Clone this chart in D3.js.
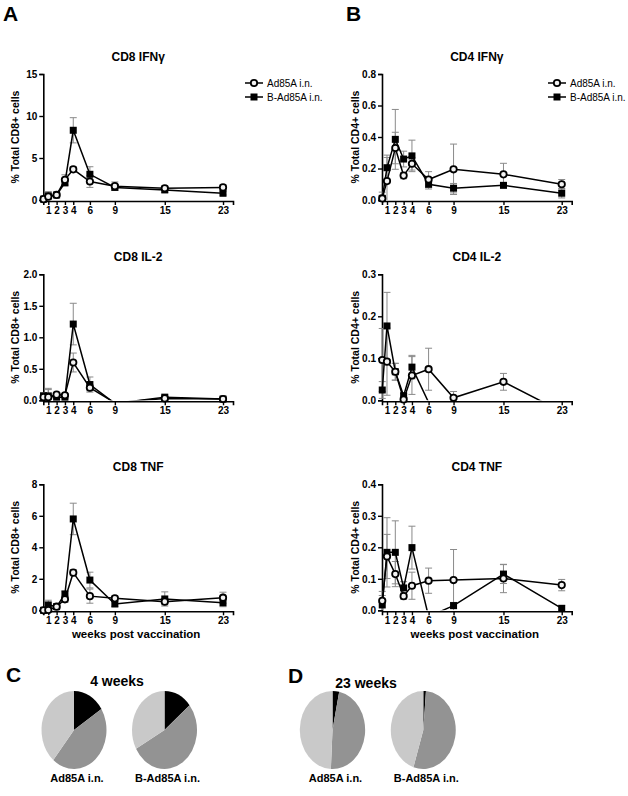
<!DOCTYPE html>
<html>
<head>
<meta charset="utf-8">
<script src="https://cdn.jsdelivr.net/npm/d3@7/dist/d3.min.js"></script>
<style>
  html, body { margin: 0; padding: 0; background: #fff; }
  svg { display: block; font-family: "Liberation Sans", Arial, sans-serif; }
</style>
</head>
<body>
<svg id="chart" width="628" height="796"></svg>
<script>
// ---------------- DATA ----------------
// time points (weeks); first point = day 3
const weeks = [0.43, 1, 2, 3, 4, 6, 9, 15, 22];
const tickWeeks = [1, 2, 3, 4, 6, 9, 15, 22];
const tickLabels = ["1", "2", "3", "4", "6", "9", "15", "23"];
const seriesNames = ["Ad85A i.n.", "B-Ad85A i.n."];

// CD8 IFNγ
const cd8IfnAd = [0.1, 0.4, 0.6, 2.4, 3.65, 2.2, 1.65, 1.4, 1.5];
const cd8IfnAdErr = [0.1, 0.3, 0.1, 0.6, 0.3, 0.7, 0.5, 0.3, 0.3];
const cd8IfnB = [0.1, 0.5, 0.6, 2.06, 8.3, 3.06, 1.5, 1.2, 0.8];
const cd8IfnBErr = [0.1, 0.5, 0.1, 0.4, 1.5, 0.9, 0.3, 0.3, 0.2];
const cd8IfnTicks = [0, 5, 10, 15];

// CD4 IFNγ
const cd4IfnAd = [0.01, 0.12, 0.33, 0.155, 0.23, 0.13, 0.195, 0.163, 0.10];
const cd4IfnAdErr = [0.02, 0.15, 0.1, 0.02, 0.04, 0.05, 0.16, 0.07, 0.03];
const cd4IfnB = [0.01, 0.205, 0.385, 0.26, 0.28, 0.10, 0.075, 0.093, 0.043];
const cd4IfnBErr = [0.04, 0.08, 0.19, 0.05, 0.1, 0.03, 0.03, 0.01, 0.03];
const cd4IfnTicks = [0, 0.2, 0.4, 0.6, 0.8];

// CD8 IL-2
const cd8Il2Ad = [0.05, 0.05, 0.09, 0.08, 0.6, 0.2, -0.04, 0.03, 0.02];
const cd8Il2AdErr = [0.05, 0.12, 0.02, 0.02, 0.15, 0.05, 0, 0.02, 0.01];
const cd8Il2B = [0.07, 0.07, 0.05, 0.05, 1.21, 0.25, -0.05, 0.05, 0.02];
const cd8Il2BErr = [0.05, 0.12, 0.02, 0.02, 0.33, 0.12, 0, 0.03, 0.01];
const cd8Il2Ticks = [0, 0.5, 1.0, 1.5, 2.0];

// CD4 IL-2
const cd4Il2Ad = [0.096, 0.092, 0.068, 0.002, 0.059, 0.074, 0.006, 0.044, -0.027];
const cd4Il2AdErr = [0.075, 0.08, 0.02, 0.005, 0.045, 0.05, 0.015, 0.02, 0];
const cd4Il2B = [0.0245, 0.177, 0.068, 0.011, 0.079, -0.005, -0.02, -0.02, -0.02];
const cd4Il2BErr = [0.02, 0.08, 0.02, 0.005, 0.028, 0, 0, 0, 0];
const cd4Il2Ticks = [0, 0.1, 0.2, 0.3];

// CD8 TNF
const cd8TnfAd = [0.0, 0.02, 0.23, 0.7, 2.39, 0.9, 0.76, 0.55, 0.8];
const cd8TnfAdErr = [0.05, 0.3, 0.05, 0.2, 0.2, 0.45, 0.15, 0.2, 0.35];
const cd8TnfB = [0.0, 0.34, 0.23, 1.03, 5.8, 1.92, 0.4, 0.72, 0.48];
const cd8TnfBErr = [0.05, 0.3, 0.05, 0.2, 1.0, 0.5, 0.15, 0.45, 0.25];
const cd8TnfTicks = [0, 2, 4, 6, 8];

// CD4 TNF
const cd4TnfAd = [0.03, 0.171, 0.115, 0.045, 0.078, 0.094, 0.096, 0.101, 0.08];
const cd4TnfAdErr = [0.03, 0.07, 0.04, 0.01, 0.043, 0.04, 0.097, 0.045, 0.018];
const cd4TnfB = [0.017, 0.184, 0.184, 0.071, 0.199, -0.02, 0.015, 0.115, 0.006];
const cd4TnfBErr = [0.03, 0.11, 0.1, 0.02, 0.068, 0, 0.01, 0.03, 0.01];
const cd4TnfTicks = [0, 0.1, 0.2, 0.3, 0.4];

// Pie charts: proportions of black / dark grey / light grey
const pieCategories = ["black", "dark", "light"];
const pie4wkAd = [16, 45, 39];
const pie4wkB = [14, 53, 33];
const pie23wkAd = [3.3, 47.5, 49.2];
const pie23wkB = [1.3, 53.6, 45.1];

// ---------------- LAYOUT ----------------
const svg = d3.select("#chart");
const FONT = "'Liberation Sans', Arial, sans-serif";
const cols = [{x0: 43.3, x1: 233, ylab: 15}, {x0: 382, x1: 571.7, ylab: 355}];
const rows = [{top: 74, bottom: 200}, {top: 274.3, bottom: 400.3}, {top: 484.3, bottom: 610.3}];

const panels = [
  {c: 0, r: 0, title: "CD8 IFNγ", yl: "% Total CD8+ cells", ymax: 15, ticks: cd8IfnTicks, fmt: d3.format("d"),
   ad: cd8IfnAd, adE: cd8IfnAdErr, b: cd8IfnB, bE: cd8IfnBErr, legend: {lx: 245}},
  {c: 1, r: 0, title: "CD4 IFNγ", yl: "% Total CD4+ cells", ymax: 0.8, ticks: cd4IfnTicks, fmt: d3.format(".1f"),
   ad: cd4IfnAd, adE: cd4IfnAdErr, b: cd4IfnB, bE: cd4IfnBErr, legend: {lx: 548}},
  {c: 0, r: 1, title: "CD8 IL-2", yl: "% Total CD8+ cells", ymax: 2, ticks: cd8Il2Ticks, fmt: d3.format(".1f"),
   ad: cd8Il2Ad, adE: cd8Il2AdErr, b: cd8Il2B, bE: cd8Il2BErr},
  {c: 1, r: 1, title: "CD4 IL-2", yl: "% Total CD4+ cells", ymax: 0.3, ticks: cd4Il2Ticks, fmt: d3.format(".1f"),
   ad: cd4Il2Ad, adE: cd4Il2AdErr, b: cd4Il2B, bE: cd4Il2BErr},
  {c: 0, r: 2, title: "CD8 TNF", yl: "% Total CD8+ cells", ymax: 8, ticks: cd8TnfTicks, fmt: d3.format("d"),
   ad: cd8TnfAd, adE: cd8TnfAdErr, b: cd8TnfB, bE: cd8TnfBErr, xtitle: true},
  {c: 1, r: 2, title: "CD4 TNF", yl: "% Total CD4+ cells", ymax: 0.4, ticks: cd4TnfTicks, fmt: d3.format(".1f"),
   ad: cd4TnfAd, adE: cd4TnfAdErr, b: cd4TnfB, bE: cd4TnfBErr, xtitle: true}
];

const defs = svg.append("defs");

function drawMarker(g, type, cx, cy) {
  if (type === "circle") {
    g.append("circle").attr("cx", cx).attr("cy", cy).attr("r", 3.2)
      .attr("fill", "#f2f2f2").attr("stroke", "#000").attr("stroke-width", 1.8);
  } else {
    g.append("rect").attr("x", cx - 3.5).attr("y", cy - 3.5).attr("width", 7).attr("height", 7)
      .attr("fill", "#000");
  }
}

panels.forEach((p, pi) => {
  const col = cols[p.c], row = rows[p.r];
  const x = d3.scaleLinear().domain([0.4, 23.2]).range([col.x0, col.x1]);
  const y = d3.scaleLinear().domain([0, p.ymax]).range([row.bottom, row.top]);
  const g = svg.append("g");

  const clipId = "clip" + pi;
  defs.append("clipPath").attr("id", clipId).append("rect")
    .attr("x", col.x0 - 10).attr("y", row.top - 30)
    .attr("width", col.x1 - col.x0 + 20).attr("height", row.bottom - row.top + 30);

  // title
  g.append("text").attr("x", (col.x0 + col.x1) / 2).attr("y", row.top - 13)
    .attr("text-anchor", "middle").attr("font-size", 12).attr("font-weight", "bold")
    .attr("font-family", FONT).text(p.title);

  // y label
  g.append("text")
    .attr("transform", `translate(${col.ylab},${(row.top + row.bottom) / 2}) rotate(-90)`)
    .attr("text-anchor", "middle").attr("dominant-baseline", "central")
    .attr("font-size", 10.5).attr("font-weight", "bold").attr("font-family", FONT).text(p.yl);

  // axes
  const yAxis = d3.axisLeft(y).tickValues(p.ticks).tickFormat(p.fmt).tickSizeOuter(0).tickSize(4).tickPadding(2);
  const ya = g.append("g").attr("transform", `translate(${col.x0},0)`).call(yAxis);
  const xAxis = d3.axisBottom(x).tickValues(tickWeeks).tickFormat((d, i) => tickLabels[i]).tickSizeOuter(0).tickSize(4).tickPadding(2);
  const xa = g.append("g").attr("transform", `translate(0,${row.bottom + 1})`).call(xAxis);
  [ya, xa].forEach(a => {
    a.select(".domain").attr("stroke", "#000").attr("stroke-width", 1.6);
    a.selectAll(".tick line").attr("stroke", "#000").attr("stroke-width", 1.4);
    a.selectAll(".tick text").attr("font-size", 10).attr("font-weight", "bold")
      .attr("font-family", FONT).attr("fill", "#000");
  });

  const series = [
    {v: p.b, e: p.bE, m: "square"},
    {v: p.ad, e: p.adE, m: "circle"}
  ];
  const clipG = g.append("g").attr("clip-path", `url(#${clipId})`);

  // error bars
  series.forEach(s => {
    s.v.forEach((v, i) => {
      const err = s.e[i];
      if (!err || v < 0) return;
      const cx = x(weeks[i]);
      const yt = y(v + err), yb = y(Math.max(v - err, 0));
      clipG.append("line").attr("x1", cx).attr("x2", cx).attr("y1", yt).attr("y2", yb)
        .attr("stroke", "#8a8a8a").attr("stroke-width", 1);
      clipG.append("line").attr("x1", cx - 3.5).attr("x2", cx + 3.5).attr("y1", yt).attr("y2", yt)
        .attr("stroke", "#8a8a8a").attr("stroke-width", 1);
      if (v - err > 0) {
        clipG.append("line").attr("x1", cx - 3.5).attr("x2", cx + 3.5).attr("y1", yb).attr("y2", yb)
          .attr("stroke", "#8a8a8a").attr("stroke-width", 1);
      }
    });
  });

  // lines
  const line = d3.line().x((d, i) => x(weeks[i])).y(d => y(d));
  series.forEach(s => {
    clipG.append("path").attr("d", line(s.v)).attr("fill", "none")
      .attr("stroke", "#000").attr("stroke-width", 1.5);
  });

  // markers
  series.forEach(s => {
    s.v.forEach((v, i) => {
      if (v < 0) return;
      drawMarker(g, s.m, x(weeks[i]), y(v));
    });
  });

  // legend
  if (p.legend) {
    const lg = g.append("g");
    [{m: "circle", yy: 83}, {m: "square", yy: 97}].forEach((it, k) => {
      lg.append("line").attr("x1", p.legend.lx).attr("x2", p.legend.lx + 18)
        .attr("y1", it.yy).attr("y2", it.yy).attr("stroke", "#000").attr("stroke-width", 1.5);
      drawMarker(lg, it.m, p.legend.lx + 9, it.yy);
      lg.append("text").attr("x", p.legend.lx + 22).attr("y", it.yy).attr("dominant-baseline", "central")
        .attr("font-size", 10).attr("font-family", FONT).text(seriesNames[k]);
    });
  }

  if (p.xtitle) {
    g.append("text").attr("x", (col.x0 + col.x1) / 2 - 2).attr("y", row.bottom + 28)
      .attr("text-anchor", "middle").attr("font-size", 11.5).attr("font-weight", "bold")
      .attr("font-family", FONT).text("weeks post vaccination");
  }
});

// panel letters
[["A", 3, 21], ["B", 346, 21], ["C", 6, 682], ["D", 288, 683]].forEach(([t, lx, ly]) => {
  svg.append("text").attr("x", lx).attr("y", ly).attr("font-size", 21).attr("font-weight", "bold")
    .attr("font-family", FONT).text(t);
});

// ---------------- PIES ----------------
const pieColors = d3.scaleOrdinal().domain(pieCategories).range(["#000000", "#939393", "#c9c9c9"]);
const pieGen = d3.pie().sort(null).value(d => d);
const arcGen = d3.arc().innerRadius(0).outerRadius(1);
const rx = 32.5, ry = 39;
const pies = [
  {vals: pie4wkAd, cx: 74, label: "Ad85A i.n."},
  {vals: pie4wkB, cx: 164.5, label: "B-Ad85A i.n."},
  {vals: pie23wkAd, cx: 332.5, label: "Ad85A i.n."},
  {vals: pie23wkB, cx: 423.3, label: "B-Ad85A i.n."}
];
const pieCy = 730;
pies.forEach(pp => {
  const g = svg.append("g").attr("transform", `translate(${pp.cx},${pieCy}) scale(${rx},${ry})`);
  g.selectAll("path").data(pieGen(pp.vals)).join("path")
    .attr("d", arcGen).attr("fill", (d, i) => pieColors(pieCategories[i]));
  svg.append("text").attr("x", pp.cx + 3).attr("y", 782).attr("text-anchor", "middle")
    .attr("font-size", 11).attr("font-weight", "bold").attr("font-family", FONT).text(pp.label);
});
[["4 weeks", 117, 686], ["23 weeks", 366, 688]].forEach(([t, cx, yy]) => {
  svg.append("text").attr("x", cx).attr("y", yy).attr("text-anchor", "middle")
    .attr("font-size", 14).attr("font-weight", "bold").attr("font-family", FONT).text(t);
});
</script>
</body>
</html>
